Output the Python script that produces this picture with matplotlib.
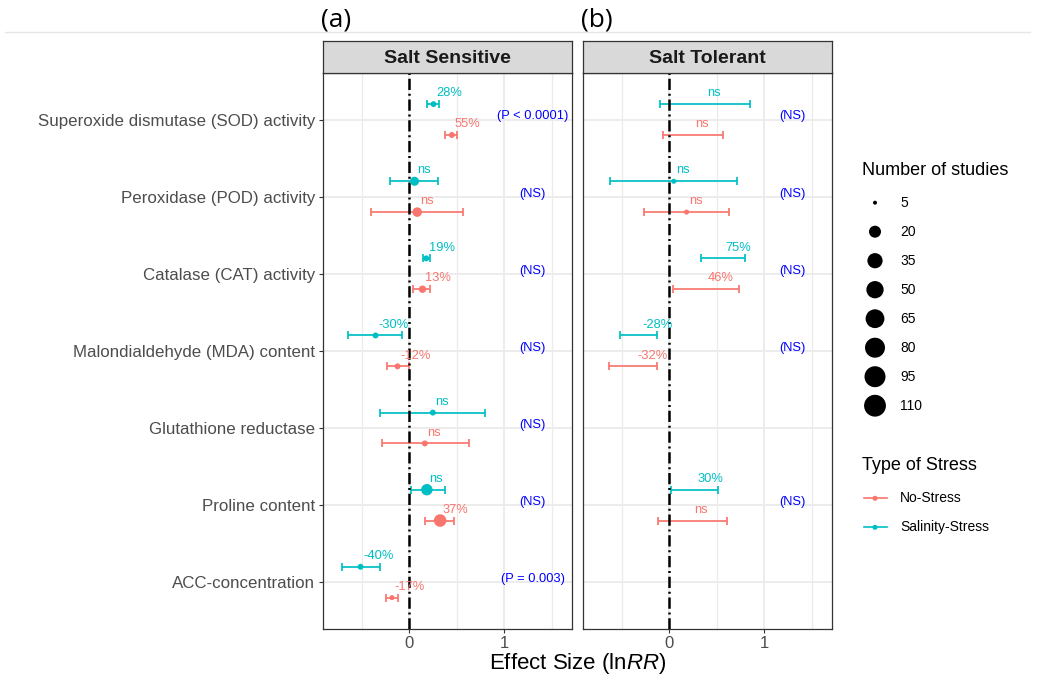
import numpy as np
import matplotlib
matplotlib.use("Agg")
import matplotlib.pyplot as plt
from matplotlib.lines import Line2D

plt.rcParams['font.family'] = ['Liberation Sans', 'DejaVu Sans']
plt.rcParams['mathtext.fontset'] = 'custom'
plt.rcParams['mathtext.rm'] = 'Liberation Sans'
plt.rcParams['mathtext.it'] = 'Liberation Sans:italic'

# ---------------- data ----------------
categories = ["Superoxide dismutase (SOD) activity", "Peroxidase (POD) activity",
              "Catalase (CAT) activity", "Malondialdehyde (MDA) content",
              "Glutathione reductase", "Proline content", "ACC-concentration"]
panels = ["Salt Sensitive", "Salt Tolerant"]
panel_tags = ["(a)", "(b)"]
stress_types = ["No-Stress", "Salinity-Stress"]
nan = np.nan

# Salt Sensitive - Salinity-Stress
ss_sal_mean = [0.253, 0.053, 0.176, -0.358, 0.246, 0.183, -0.516]
ss_sal_lo = [0.186, -0.203, 0.141, -0.645, -0.316, 0.015, -0.716]
ss_sal_hi = [0.313, 0.305, 0.211, -0.077, 0.794, 0.373, -0.308]
ss_sal_n = [7, 12, 7, 7, 7, 18, 7]
ss_sal_lab = ["28%", "ns", "19%", "-30%", "ns", "ns", "-40%"]
# Salt Sensitive - No-Stress
ss_no_mean = [0.446, 0.081, 0.137, -0.126, 0.162, 0.323, -0.185]
ss_no_lo = [0.373, -0.406, 0.042, -0.238, -0.287, 0.165, -0.248]
ss_no_hi = [0.499, 0.568, 0.218, -0.005, 0.625, 0.471, -0.122]
ss_no_n = [7, 13, 9, 7, 7, 22, 6]
ss_no_lab = ["55%", "ns", "13%", "-12%", "ns", "37%", "-17%"]
ss_sig = ["(P < 0.0001)", "(NS)", "(NS)", "(NS)", "(NS)", "(NS)", "(P = 0.003)"]

# Salt Tolerant - Salinity-Stress
st_sal_mean = [0.37, 0.045, 0.563, -0.313, nan, 0.268, nan]
st_sal_lo = [-0.095, -0.623, 0.33, -0.522, nan, 0.011, nan]
st_sal_hi = [0.851, 0.711, 0.792, -0.131, nan, 0.51, nan]
st_sal_n = [nan, 6, nan, nan, nan, nan, nan]
st_sal_lab = ["ns", "ns", "75%", "-28%", "", "30%", ""]
# Salt Tolerant - No-Stress
st_no_mean = [0.24, 0.18, 0.376, -0.37, nan, 0.23, nan]
st_no_lo = [-0.068, -0.268, 0.032, -0.634, nan, -0.116, nan]
st_no_hi = [0.566, 0.626, 0.729, -0.131, nan, 0.602, nan]
st_no_n = [nan, 6, nan, nan, nan, nan, nan]
st_no_lab = ["ns", "ns", "46%", "-32%", "", "ns", ""]
st_sig = ["(NS)", "(NS)", "(NS)", "(NS)", "", "(NS)", ""]

size_breaks = [5, 20, 35, 50, 65, 80, 95, 110]

# ---------------- style ----------------
col_no = '#F8766D'
col_sal = '#00BFC4'
W, H = 1044, 683


def marker_area(n):
    n = np.asarray(n, dtype=float)
    d_px = 4.0 + 5.77 * np.log(np.clip(n, 5, None) / 5.0)
    return (d_px * 72 / 100.0) ** 2


fig = plt.figure(figsize=(W / 100, H / 100), dpi=100)

# thin grey line at top (document rule)
fig.add_artist(Line2D([5 / W, 1030 / W], [1 - 32 / H, 1 - 32 / H], color='#E6E6E6', lw=1.0))

ax_left = [322.7, 582.7]
ax_w = 249.0
ax_top, ax_bot = 73.3, 628.5
strip_top = 41.0

ncat = len(categories)
ypos = np.arange(ncat, 0, -1).astype(float)  # SOD on top

panel_data = [
    (ss_sal_mean, ss_sal_lo, ss_sal_hi, ss_sal_n, ss_sal_lab,
     ss_no_mean, ss_no_lo, ss_no_hi, ss_no_n, ss_no_lab, ss_sig),
    (st_sal_mean, st_sal_lo, st_sal_hi, st_sal_n, st_sal_lab,
     st_no_mean, st_no_lo, st_no_hi, st_no_n, st_no_lab, st_sig),
]

for p in range(2):
    l = ax_left[p]
    ax = fig.add_axes([l / W, 1 - ax_bot / H, ax_w / W, (ax_bot - ax_top) / H])
    ax.set_xlim(-0.915, 1.71)
    ax.set_ylim(0.4, ncat + 0.6)
    ax.set_xticks([0, 1])
    ax.set_xticklabels(["0", "1"])
    ax.set_xticks([-0.5, 0.5, 1.5], minor=True)
    ax.set_yticks(ypos)
    ax.set_yticklabels(categories)
    ax.grid(which='major', color='#EBEBEB', lw=1.3)
    ax.grid(which='minor', axis='x', color='#EBEBEB', lw=0.9)
    ax.set_axisbelow(True)
    ax.tick_params(which='minor', length=0)
    ax.tick_params(which='major', length=3, width=0.8, color='#333333',
                   labelcolor='#4D4D4D', labelsize=12, pad=2.5)
    ax.tick_params(axis='y', labelsize=12.2)
    if p == 1:
        ax.tick_params(axis='y', length=0, labelleft=False)
    for s in ax.spines.values():
        s.set_color('#333333')
        s.set_linewidth(0.9)

    (sm, slo, shi, sn, slab, nm, nlo, nhi, nn, nlab, sig) = panel_data[p]
    for mean, lo, hi, nstud, labs, col, dy in [
            (sm, slo, shi, sn, slab, col_sal, 0.2),
            (nm, nlo, nhi, nn, nlab, col_no, -0.2)]:
        mean = np.array(mean, float)
        lo = np.array(lo, float)
        hi = np.array(hi, float)
        nstud = np.array(nstud, float)
        yy = ypos + dy
        ok = ~np.isnan(lo)
        ax.errorbar(mean[ok], yy[ok], xerr=[mean[ok] - lo[ok], hi[ok] - mean[ok]],
                    fmt='none', ecolor=col, elinewidth=1.25, capsize=2.9,
                    capthick=1.25, zorder=2)
        okp = ~np.isnan(nstud)
        ax.scatter(mean[okp], yy[okp], s=marker_area(nstud[okp]), color=col,
                   edgecolors='none', zorder=4)
        for i in range(ncat):
            if labs[i] and not np.isnan(mean[i]):
                ax.text(mean[i] + 0.028, yy[i] + 0.14, labs[i], color=col,
                        fontsize=9.3, ha='left', va='center', zorder=5)
    for i in range(ncat):
        if sig[i]:
            ax.text(1.3, ypos[i] + 0.04, sig[i], color='#0000FF', fontsize=9.3,
                    ha='center', va='center', zorder=5)

    ax.axvline(0, color='black', lw=1.8, linestyle=(0, (4.5, 1.5, 0.8, 1.5)), zorder=3)

    # strip
    sax = fig.add_axes([l / W, 1 - ax_top / H, ax_w / W, (ax_top - strip_top) / H])
    sax.set_facecolor('#D9D9D9')
    sax.set_xticks([])
    sax.set_yticks([])
    for s in sax.spines.values():
        s.set_color('#333333')
        s.set_linewidth(0.9)
    sax.text(0.5, 0.45, panels[p], transform=sax.transAxes, ha='center', va='center',
             fontsize=14, fontweight='bold', color='#1A1A1A')

    fig.text((l - 2) / W, 1 - 20 / H, panel_tags[p], fontsize=19, ha='left', va='center',
             family=['Open Sans', 'DejaVu Sans'], color='black')

fig.text(577.2 / W, 1 - 664 / H, r'Effect Size (ln$\mathit{RR}$)', fontsize=16,
         ha='center', va='center', color='black')

# ---------------- legends ----------------
lax = fig.add_axes([0, 0, 1, 1], facecolor='none')
lax.set_xlim(0, W)
lax.set_ylim(H, 0)
lax.axis('off')

lax.text(861.7, 170.7, "Number of studies", fontsize=13, ha='left', va='center', color='black')
for i, n in enumerate(size_breaks):
    y = 202.7 + 29.0 * i
    lax.scatter([875], [y], s=marker_area(n), color='black', edgecolors='none')
    lax.text(900, y, str(n), fontsize=10, ha='left', va='center', color='black')

lax.text(861.7, 465, "Type of Stress", fontsize=13, ha='left', va='center', color='black')
for i, (lab, col) in enumerate(zip(stress_types, [col_no, col_sal])):
    y = 498.3 + 29.0 * i
    lax.plot([864, 886.7], [y, y], color=col, lw=1.2)
    lax.scatter([875], [y], s=marker_area(6), color=col, edgecolors='none')
    lax.text(900, y, lab, fontsize=10, ha='left', va='center', color='black')

fig.savefig('out.png', dpi=100)
